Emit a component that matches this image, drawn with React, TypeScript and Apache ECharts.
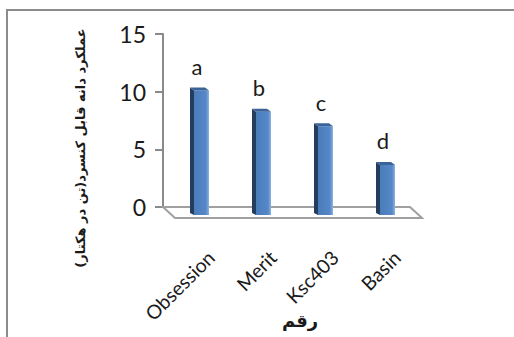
import React, { useEffect, useRef } from "react";
import * as echarts from "echarts";

const categories = ["Obsession", "Merit", "Ksc403", "Basin"];
const values = [10.1, 8.25, 7.0, 3.65];
const letters = ["a", "b", "c", "d"];
const yTicks = [0, 5, 10, 15];
const yTitle = "عملکرد دانه قابل کنسرد(تن در هکتار)";
const xTitle = "رقم";

export default function App() {
  const ref = useRef<HTMLDivElement>(null);
  useEffect(() => {
    if (!ref.current) return;
    const chart = echarts.init(ref.current, null, { renderer: "svg" });
    const gridL = 163, gridT = 34, gridW = 248, gridH = 173;
    chart.setOption({
      animation: false,
      backgroundColor: "#ffffff",
      grid: [
        { left: gridL, top: gridT, width: gridW, height: gridH },
        { left: gridL + 17, top: gridT, width: gridW, height: gridH },
      ],
      xAxis: [
        {
          type: "category",
          gridIndex: 0,
          data: categories,
          axisLine: { show: false },
          axisTick: { show: false },
          axisLabel: { show: false },
        },
        {
          type: "category",
          gridIndex: 1,
          data: categories,
          axisLine: { show: false },
          axisTick: { show: false },
          axisLabel: {
            rotate: 45,
            margin: 47,
            fontFamily: "Lato",
            fontSize: 19.5,
            color: "#1a1a1a",
          },
        },
      ],
      yAxis: [
        {
          type: "value",
          gridIndex: 0,
          min: yTicks[0],
          max: yTicks[yTicks.length - 1],
          interval: 5,
          axisLine: { show: true, lineStyle: { color: "#8a8a8a", width: 2 } },
          axisTick: { show: true, length: 8, lineStyle: { color: "#8a8a8a", width: 2 } },
          splitLine: { show: false },
          axisLabel: { margin: 17, fontFamily: "Lato", fontSize: 23, color: "#1a1a1a" },
        },
        {
          type: "value",
          gridIndex: 1,
          min: 0,
          max: 15,
          show: false,
        },
      ],
      graphic: [
        {
          type: "rect",
          shape: { x: 7, y: 10, width: 530, height: 350 },
          style: { fill: "none", stroke: "#8c8c8c", lineWidth: 2 },
          z: 0,
        },
        {
          type: "text",
          x: 80,
          y: 148,
          rotation: Math.PI / 2,
          style: {
            text: yTitle,
            fontFamily: "DejaVu Sans",
            fontWeight: "bold",
            fontSize: 13,
            fill: "#1a1a1a",
            align: "center",
            verticalAlign: "middle",
          },
        },
        {
          type: "text",
          x: 300,
          y: 320,
          style: {
            text: xTitle,
            fontFamily: "DejaVu Sans",
            fontWeight: "bold",
            fontSize: 18,
            fill: "#1a1a1a",
            align: "center",
            verticalAlign: "middle",
          },
        },
      ],
      series: [
        {
          type: "custom",
          xAxisIndex: 0,
          yAxisIndex: 0,
          z: 1,
          clip: false,
          silent: true,
          data: [[0]],
          renderItem: (params: any) => {
            const cs = params.coordSys;
            const x = cs.x, y = cs.y + cs.height, w = cs.width;
            return {
              type: "polygon",
              shape: {
                points: [
                  [x, y],
                  [x + w - 1, y],
                  [x + w + 11, y + 11],
                  [x + 12, y + 11],
                ],
              },
              style: { fill: "#ffffff", stroke: "#a0a0a0", lineWidth: 2 },
            };
          },
        },
        {
          type: "custom",
          xAxisIndex: 0,
          yAxisIndex: 0,
          z: 2,
          clip: false,
          data: values.map((v, i) => [i, v]),
          renderItem: (params: any, api: any) => {
            const i = api.value(0);
            const v = api.value(1);
            const base = api.coord([i, 0]);
            const top = api.coord([i, v]);
            const cx = base[0];
            const fx0 = cx, fx1 = cx + 15;
            const yt = top[1];
            const yb = base[1] + 8;
            const dx = 4, dy = 3;
            return {
              type: "group",
              children: [
                {
                  type: "polygon",
                  shape: { points: [[fx0 - dx, yt - dy], [fx0, yt], [fx0, yb], [fx0 - dx, yb - 2]] },
                  style: { fill: "#243d5f" },
                },
                {
                  type: "rect",
                  shape: { x: fx0, y: yt, width: fx1 - fx0, height: yb - yt },
                  style: {
                    fill: new echarts.graphic.LinearGradient(0, 0, 1, 0, [
                      { offset: 0, color: "#4a7cba" },
                      { offset: 0.8, color: "#5588c8" },
                      { offset: 1, color: "#8fb3e0" },
                    ]),
                  },
                },
                {
                  type: "polygon",
                  shape: { points: [[fx0 - dx, yt - dy], [fx1 - dx, yt - dy], [fx1, yt], [fx0, yt]] },
                  style: { fill: "#3a6399" },
                },
                {
                  type: "text",
                  x: cx + 3,
                  y: yt - 24,
                  style: {
                    text: letters[i],
                    fontFamily: "Lato",
                    fontSize: 22,
                    fill: "#1a1a1a",
                    align: "center",
                    verticalAlign: "middle",
                  },
                },
              ],
            };
          },
        },
      ],
    });
    return () => chart.dispose();
  }, []);
  return (
    <div
      ref={ref}
      style={{ position: "fixed", left: 0, top: 0, width: 514, height: 337 }}
    />
  );
}
